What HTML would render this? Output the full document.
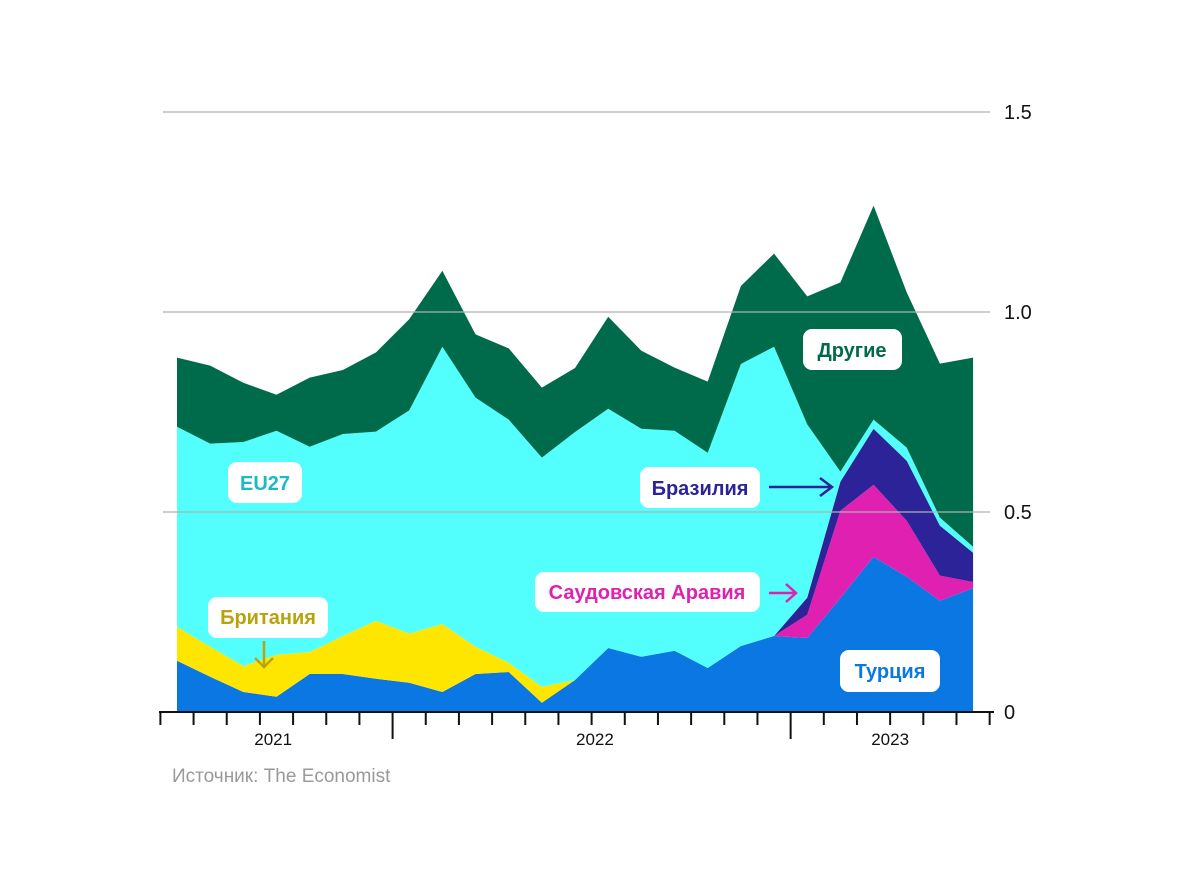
<!DOCTYPE html>
<html><head><meta charset="utf-8"><style>
body{margin:0;background:#fff;}
svg text{font-family:"Liberation Sans",sans-serif;}
.lbl{font-weight:bold;font-size:20px;}
</style></head><body>
<svg width="1200" height="887" viewBox="0 0 1200 887">
<g id="areas"></g>
<g id="grid"></g>
<g id="axis"></g>
<g>
  <rect x="803" y="329" width="99" height="41" rx="9" fill="#fff"/>
  <text x="852" y="357" text-anchor="middle" class="lbl" fill="#006b4a">Другие</text>
  <rect x="228" y="462" width="74" height="41" rx="9" fill="#fff"/>
  <text x="265" y="490" text-anchor="middle" class="lbl" fill="#1bbcc0">EU27</text>
  <rect x="640" y="467" width="120" height="41" rx="9" fill="#fff"/>
  <text x="700" y="495" text-anchor="middle" class="lbl" fill="#2c2399">Бразилия</text>
  <path d="M769 487 H832 M820 478 L832 487 L820 496" stroke="#2c2399" stroke-width="2.5" fill="none"/>
  <rect x="535" y="572" width="225" height="40" rx="9" fill="#fff"/>
  <text x="647" y="599" text-anchor="middle" class="lbl" fill="#e020b0">Саудовская Аравия</text>
  <path d="M769 593 H796 M786 584 L796 593 L786 602" stroke="#e020b0" stroke-width="2.5" fill="none"/>
  <rect x="208" y="597" width="120" height="41" rx="9" fill="#fff"/>
  <text x="268" y="624" text-anchor="middle" class="lbl" fill="#b9a30d">Британия</text>
  <path d="M264 641 V667 M255 658 L264 667 L273 658" stroke="#b9a30d" stroke-width="2.5" fill="none"/>
  <rect x="840" y="650" width="100" height="42" rx="9" fill="#fff"/>
  <text x="890" y="678" text-anchor="middle" class="lbl" fill="#0a77e3">Турция</text>
</g>
<text x="172" y="782" font-size="19" fill="#999">Источник: The Economist</text>
</svg>
<script>
const turkey=[0.128,0.088,0.05,0.038,0.095,0.095,0.083,0.073,0.05,0.095,0.1,0.023,0.08,0.16,0.138,0.153,0.11,0.165,0.19,0.185,0.285,0.388,0.338,0.278,0.31];
const saudi=[0,0,0,0,0,0,0,0,0,0,0,0,0,0,0,0,0,0,0,0.058,0.218,0.18,0.14,0.063,0.015];
const brazil=[0,0,0,0,0,0,0,0,0,0,0,0,0,0,0,0,0,0,0,0.043,0.073,0.14,0.15,0.125,0.073];
const britain=[0.085,0.075,0.065,0.105,0.055,0.095,0.145,0.123,0.17,0.068,0.023,0.04,0,0,0,0,0,0,0,0,0,0,0,0,0];
const eu27=[0.5,0.508,0.56,0.56,0.513,0.505,0.473,0.558,0.693,0.623,0.608,0.573,0.62,0.598,0.57,0.55,0.538,0.705,0.723,0.433,0.025,0.023,0.033,0.02,0.015];
const others=[0.173,0.195,0.148,0.09,0.173,0.16,0.198,0.228,0.19,0.158,0.178,0.175,0.16,0.23,0.195,0.158,0.178,0.195,0.233,0.32,0.473,0.535,0.388,0.385,0.473];
const yTicks=[0,0.5,1.0,1.5];
const yTickLabels=["0","0.5","1.0","1.5"];
const years=["2021","2022","2023"];
const yearMonthCenter=[3.4,13.1,22];

const NS="http://www.w3.org/2000/svg";
const X=i=>177+i*33.17;
const Y=v=>712-v*400;
const series=[[turkey,"#0a77e3","turkey"],[saudi,"#e020b0","saudi-arabia"],[brazil,"#2c2399","brazil"],[britain,"#ffe600","britain"],[eu27,"#52fffd","eu27"],[others,"#006b4a","others"]];
const n=turkey.length;
let base=new Array(n).fill(0);
const ga=document.getElementById('areas');
series.forEach(([arr,col,name])=>{
  const top=base.map((b,i)=>b+arr[i]);
  let d="M"+top.map((v,i)=>X(i)+","+Y(v)).join(" L");
  for(let i=n-1;i>=0;i--) d+=" L"+X(i)+","+Y(base[i]);
  d+="Z";
  const p=document.createElementNS(NS,"path");
  p.setAttribute("d",d);p.setAttribute("fill",col);
  
  
  ga.appendChild(p);
  base=top;
});
const gg=document.getElementById('grid');
yTicks.forEach((t,k)=>{
  if(t>0){
    const l=document.createElementNS(NS,"line");
    l.setAttribute("x1",163);l.setAttribute("x2",990);l.setAttribute("y1",Y(t));l.setAttribute("y2",Y(t));
    l.setAttribute("stroke","#b0b0b0");l.setAttribute("stroke-width","1.2");
    
    
    gg.appendChild(l);
  }
  const tx=document.createElementNS(NS,"text");
  tx.setAttribute("x",1004);tx.setAttribute("y",Y(t)+7);tx.setAttribute("font-size","20");tx.setAttribute("fill","#111");
  tx.textContent=yTickLabels[k];
  
  
  gg.appendChild(tx);
});
const gx=document.getElementById('axis');
const al=document.createElementNS(NS,"line");
al.setAttribute("x1",159);al.setAttribute("x2",994);al.setAttribute("y1",712);al.setAttribute("y2",712);
al.setAttribute("stroke","#111");al.setAttribute("stroke-width","2");


gx.appendChild(al);
for(let k=0;k<26;k++){
  const x=X(k)-16.6;
  if(x>992) break;
  const major=(k===7||k===19);
  const t=document.createElementNS(NS,"line");
  t.setAttribute("x1",x);t.setAttribute("x2",x);t.setAttribute("y1",712);t.setAttribute("y2",major?739:725);
  t.setAttribute("stroke","#111");t.setAttribute("stroke-width","2");
  
  
  gx.appendChild(t);
}
years.forEach((y,k)=>{
  const tx=document.createElementNS(NS,"text");
  tx.setAttribute("x",X(yearMonthCenter[k])-16.6);tx.setAttribute("y",745);tx.setAttribute("font-size","17");
  tx.setAttribute("text-anchor","middle");tx.setAttribute("fill","#111");
  tx.textContent=y;
  
  
  gx.appendChild(tx);
});
</script>
</body></html>
